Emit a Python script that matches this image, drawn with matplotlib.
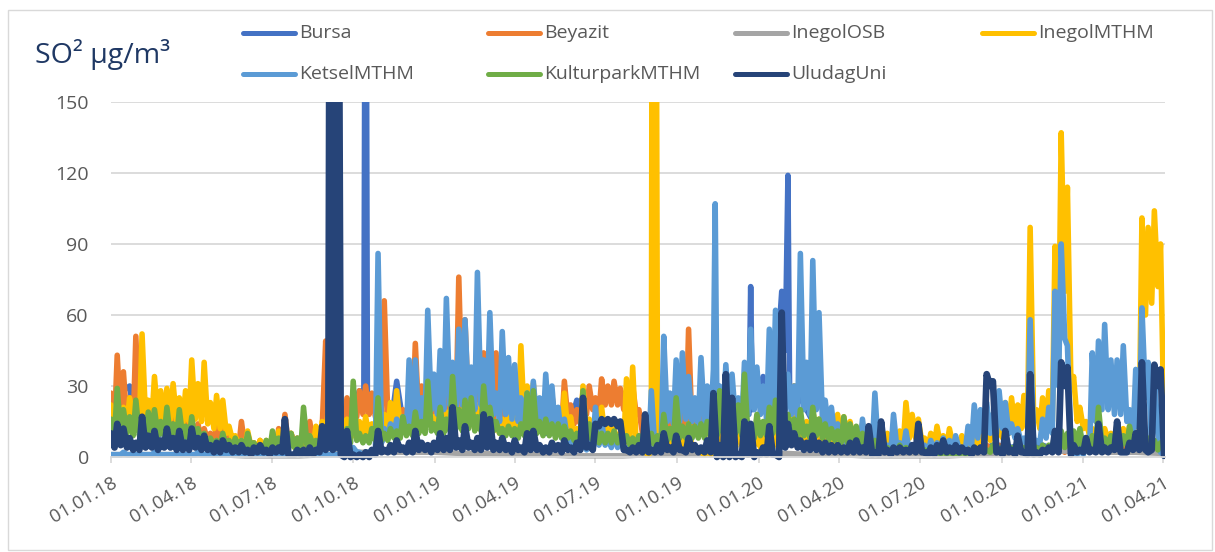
import pandas as pd
import matplotlib
matplotlib.use("Agg")
import matplotlib.pyplot as plt
from matplotlib.lines import Line2D
from matplotlib.patches import Rectangle

plt.rcParams['font.family'] = ['Open Sans', 'DejaVu Sans']

# ---------------------------------------------------------------- data
# SO2 in ug/m3. Weekly readings start 01.01.2018 (170 weeks); a second
# reading per week is taken four days later ("mid" lists).
week_dates = pd.date_range("2018-01-01", periods=170, freq="7D")
mid_dates = week_dates + pd.Timedelta(days=4)
# InegolOSB is stored as monthly values
month_dates = pd.date_range("2018-01-01", periods=40, freq="MS")

bursa = [
    8, 10, 28, 30, 12, 10, 9, 8, 10, 9,
    8, 9, 7, 8, 7, 6, 6, 5, 6, 8,
    8, 5, 6, 5, 5, 5, 4, 4, 5, 5,
    4, 5, 5, 4, 5, 4, 3, 4, 5, 20,
    28, 320, 25, 27, 14, 12, 32, 15, 12, 14,
    15, 14, 16, 15, 18, 15, 16, 17, 15, 14,
    15, 14, 13, 15, 14, 12, 13, 12, 11, 12,
    10, 11, 10, 12, 14, 24, 12, 10, 9, 8,
    8, 9, 8, 7, 8, 7, 6, 8, 9, 10,
    12, 14, 12, 15, 14, 16, 15, 18, 20, 22,
    25, 20, 20, 72, 25, 34, 20, 30, 70, 119,
    30, 25, 20, 15, 12, 10, 9, 8, 7, 6,
    5, 6, 5, 4, 5, 4, 4, 5, 4, 4,
    4, 3, 4, 4, 3, 4, 4, 3, 4, 4,
    5, 4, 5, 4, 5, 4, 5, 4, 5, 4,
    5, 4, 5, 6, 5, 4, 5, 4, 5, 4,
    5, 4, 5, 4, 5, 4, 5, 4, 5, 4,
]
beyazit = [
    27, 43, 36, 25, 51, 20, 18, 22, 17, 20,
    18, 15, 17, 12, 14, 12, 10, 14, 19, 10,
    8, 15, 9, 6, 7, 5, 9, 12, 18, 10,
    8, 12, 15, 8, 12, 22, 22, 21, 25, 27,
    28, 30, 27, 20, 66, 22, 24, 20, 22, 48,
    30, 25, 32, 28, 35, 30, 76, 58, 35, 30,
    44, 40, 44, 30, 22, 25, 20, 18, 20, 22,
    28, 26, 18, 32, 22, 20, 28, 30, 25, 33,
    30, 32, 29, 28, 30, 20, 8, 10, 12, 15,
    18, 20, 22, 54, 20, 18, 15, 14, 16, 15,
    14, 16, 15, 12, 10, 12, 10, 9, 10, 8,
    8, 7, 8, 6, 7, 6, 5, 6, 5, 5,
    4, 5, 4, 3, 4, 5, 4, 3, 4, 3,
    3, 4, 3, 3, 4, 3, 4, 3, 5, 6,
    11, 5, 4, 5, 4, 3, 4, 3, 4, 3,
    4, 3, 4, 3, 4, 5, 3, 4, 3, 4,
    3, 4, 3, 4, 3, 4, 3, 4, 3, 3,
]
beyazit_mid = [
    14, 15, 14, 13, 12, 12, 11, 11, 10, 10,
    9, 9, 8, 8, 7, 7, 6, 6, 6, 5,
    4, 4, 4, 3, 3, 3, 4, 5, 5, 5,
    5, 5, 6, 6, 8, 10, 14, 15, 16, 17,
    18, 18, 17, 16, 17, 16, 16, 15, 15, 16,
    16, 17, 18, 18, 18, 19, 20, 20, 18, 18,
    17, 16, 16, 15, 13, 13, 12, 12, 12, 13,
    14, 15, 12, 16, 14, 14, 18, 20, 18, 22,
    22, 22, 20, 18, 18, 10, 5, 5, 6, 7,
    8, 9, 10, 10, 9, 9, 8, 8, 8, 8,
    8, 7, 7, 6, 6, 6, 5, 5, 5, 5,
    4, 4, 4, 4, 4, 3, 3, 3, 3, 3,
    2, 2, 2, 2, 2, 2, 2, 2, 2, 2,
    2, 2, 2, 2, 2, 2, 2, 2, 3, 3,
    4, 3, 2, 2, 2, 2, 2, 2, 2, 2,
    2, 2, 2, 2, 2, 2, 2, 2, 2, 2,
    2, 2, 2, 2, 2, 2, 2, 2, 2, 2,
]
inegol_osb = [
    1, 1, 1, 1, 1, 0.5, 0.5, 0.5, 1, 2, 2, 2,
    2, 1.5, 1.5, 1, 1, 0.5, 0.5, 0.5, 1, 1, 1.5, 1.5,
    1.5, 1.5, 1, 1, 0.5, 0.5, 0.5, 0.5, 1, 1.5, 2, 2.5,
    2.5, 2, 2, 1.5,
]
inegol_mthm = [
    22, 18, 21, 25, 21, 52, 24, 34, 28, 29,
    31, 25, 28, 41, 31, 40, 23, 26, 24, 13,
    9, 7, 11, 6, 7, 7, 6, 11, 9, 10,
    7, 12, 9, 13, 15, 21, 12, 18, 16, 12,
    15, 17, 14, 21, 18, 23, 28, 16, 20, 25,
    18, 21, 17, 22, 19, 24, 20, 25, 18, 22,
    20, 17, 15, 16, 20, 18, 47, 30, 31, 22,
    21, 18, 16, 27, 17, 12, 30, 16, 14, 21,
    15, 12, 10, 33, 38, 8, 2, 4, 10, 8,
    6, 12, 8, 14, 5, 2, 3, 8, 10, 12,
    10, 14, 10, 12, 8, 10, 9, 12, 10, 14,
    30, 12, 15, 20, 16, 14, 12, 18, 17, 15,
    12, 14, 10, 8, 12, 10, 9, 11, 23, 18,
    16, 8, 10, 13, 9, 12, 8, 9, 8, 12,
    15, 13, 18, 16, 23, 25, 22, 26, 97, 20,
    25, 28, 89, 137, 114, 34, 21, 15, 12, 10,
    12, 10, 14, 12, 13, 30, 101, 97, 104, 90,
]
inegol_mthm_mid = [
    14, 13, 14, 15, 14, 16, 15, 16, 15, 16,
    15, 14, 15, 16, 15, 14, 12, 12, 10, 7,
    5, 4, 4, 3, 3, 3, 3, 4, 4, 4,
    4, 5, 5, 6, 7, 8, 8, 9, 8, 8,
    9, 9, 10, 11, 11, 12, 12, 11, 12, 13,
    12, 13, 12, 13, 13, 14, 13, 14, 12, 13,
    12, 11, 10, 10, 11, 12, 14, 15, 14, 12,
    11, 10, 9, 10, 8, 7, 8, 7, 7, 8,
    7, 6, 5, 9, 5, 2, 1, 2, 3, 3,
    3, 4, 3, 3, 2, 1, 1, 2, 3, 4,
    4, 5, 4, 5, 4, 5, 4, 5, 5, 6,
    8, 6, 7, 8, 7, 6, 6, 7, 7, 6,
    6, 6, 5, 4, 5, 4, 4, 5, 8, 8,
    6, 4, 5, 5, 4, 5, 4, 4, 4, 5,
    6, 7, 8, 8, 10, 12, 12, 12, 15, 12,
    13, 15, 40, 70, 30, 15, 12, 9, 7, 6,
    7, 6, 7, 6, 8, 12, 60, 65, 72, 10,
]
ketsel_mthm = [
    1, 1, 2, 1, 1, 1, 1, 2, 1, 1,
    1, 1, 1, 1, 2, 1, 1, 1, 1, 1,
    1, 1, 1, 1, 1, 1, 1, 1, 1, 1,
    1, 1, 1, 1, 1, 1, 1, 2, 3, 4,
    2, 2, 3, 86, 12, 14, 16, 17, 41, 41,
    25, 62, 35, 45, 67, 40, 54, 58, 38, 78,
    41, 61, 27, 53, 42, 39, 25, 27, 32, 25,
    35, 30, 21, 16, 10, 4, 6, 10, 21, 15,
    8, 10, 9, 4, 6, 5, 8, 28, 5, 51,
    27, 41, 44, 34, 25, 42, 30, 37, 30, 39,
    35, 25, 40, 54, 38, 30, 54, 62, 45, 35,
    30, 86, 40, 83, 61, 24, 21, 14, 10, 8,
    6, 16, 5, 27, 6, 5, 18, 6, 11, 5,
    6, 5, 7, 6, 8, 7, 9, 4, 13, 22,
    20, 23, 18, 28, 23, 14, 12, 8, 58, 7,
    16, 21, 70, 90, 47, 2, 3, 8, 44, 49,
    56, 41, 41, 47, 20, 37, 63, 40, 35, 2,
]
ketsel_mthm_mid = [
    1, 1, 1, 1, 1, 1, 1, 1, 1, 1,
    1, 1, 1, 1, 1, 1, 1, 1, 1, 1,
    1, 1, 1, 1, 1, 1, 1, 1, 1, 1,
    1, 1, 1, 1, 1, 1, 1, 1, 2, 2,
    1, 2, 2, 6, 8, 9, 10, 10, 12, 14,
    15, 20, 18, 20, 22, 20, 22, 22, 20, 22,
    20, 18, 15, 18, 16, 15, 14, 13, 14, 12,
    12, 10, 8, 6, 4, 3, 3, 4, 5, 5,
    4, 4, 3, 3, 3, 3, 3, 4, 3, 15,
    14, 15, 16, 15, 14, 15, 14, 18, 15, 16,
    15, 14, 18, 20, 18, 16, 20, 22, 20, 18,
    16, 20, 18, 20, 14, 10, 8, 6, 5, 4,
    3, 3, 3, 3, 3, 2, 3, 3, 2, 2,
    2, 2, 2, 2, 3, 3, 3, 3, 5, 8,
    10, 10, 10, 12, 10, 8, 6, 5, 5, 6,
    8, 10, 30, 50, 5, 1, 1, 2, 15, 20,
    20, 18, 18, 15, 8, 12, 25, 3, 10, 1,
]
kulturpark_mthm = [
    16, 29, 20, 17, 24, 15, 19, 20, 15, 21,
    14, 20, 13, 17, 12, 10, 8, 7, 10, 7,
    8, 7, 10, 6, 5, 7, 11, 8, 6, 10,
    8, 21, 9, 7, 8, 7, 9, 10, 12, 32,
    10, 9, 12, 25, 10, 12, 11, 17, 13, 19,
    15, 32, 14, 21, 16, 34, 20, 24, 25, 17,
    30, 21, 15, 12, 13, 12, 14, 27, 28, 15,
    16, 14, 14, 13, 11, 10, 28, 14, 12, 10,
    10, 11, 9, 9, 8, 9, 7, 10, 9, 18,
    12, 25, 13, 14, 13, 14, 15, 17, 28, 20,
    25, 22, 35, 12, 18, 15, 21, 24, 14, 18,
    16, 20, 13, 21, 16, 14, 12, 11, 17, 14,
    13, 10, 7, 7, 5, 4, 4, 5, 4, 4,
    4, 3, 3, 3, 3, 3, 2, 3, 3, 4,
    4, 3, 5, 4, 3, 4, 3, 4, 5, 4,
    5, 5, 11, 11, 10, 11, 12, 8, 9, 21,
    8, 9, 8, 9, 13, 8, 7, 8, 7, 6,
]
kulturpark_mthm_mid = [
    9, 10, 10, 9, 9, 9, 10, 9, 9, 8,
    8, 8, 7, 6, 6, 5, 5, 4, 4, 4,
    4, 4, 4, 3, 3, 3, 4, 4, 3, 4,
    4, 5, 5, 5, 5, 5, 5, 6, 6, 7,
    6, 6, 7, 7, 7, 8, 8, 9, 9, 10,
    10, 11, 10, 10, 11, 12, 11, 12, 11, 11,
    12, 11, 10, 9, 9, 8, 9, 10, 10, 9,
    9, 8, 8, 8, 7, 7, 7, 7, 6, 6,
    6, 6, 6, 5, 5, 5, 5, 5, 6, 7,
    7, 8, 8, 8, 8, 8, 9, 9, 10, 10,
    10, 9, 9, 8, 9, 9, 10, 9, 8, 9,
    8, 9, 8, 9, 8, 7, 7, 6, 6, 6,
    5, 4, 3, 3, 2, 2, 2, 2, 2, 2,
    2, 2, 1, 1, 1, 1, 1, 1, 1, 2,
    2, 2, 2, 2, 2, 2, 2, 2, 2, 2,
    3, 3, 4, 4, 5, 5, 4, 4, 4, 5,
    5, 4, 4, 5, 5, 4, 4, 4, 3, 3,
]
uludag_uni = [
    10, 14, 12, 8, 6, 17, 9, 11, 7, 12,
    8, 11, 6, 12, 8, 9, 5, 6, 7, 5,
    4, 5, 3, 4, 5, 3, 4, 4, 16, 1,
    3, 3, 4, 3, 13, 12, 380, 1, 11, 1,
    1, 2, 3, 11, 3, 5, 7, 4, 6, 11,
    6, 5, 6, 10, 8, 21, 7, 13, 6, 8,
    18, 16, 6, 8, 5, 7, 4, 10, 11, 5,
    4, 6, 5, 7, 4, 6, 25, 5, 14, 16,
    16, 16, 15, 3, 4, 5, 18, 3, 5, 10,
    4, 9, 3, 8, 5, 4, 7, 27, 5, 35,
    25, 1, 15, 14, 2, 4, 13, 1, 61, 14,
    10, 7, 6, 9, 6, 6, 5, 5, 4, 6,
    7, 4, 13, 2, 15, 3, 4, 4, 3, 5,
    14, 2, 4, 5, 7, 4, 5, 4, 3, 4,
    4, 35, 32, 3, 11, 3, 9, 2, 35, 2,
    3, 4, 11, 40, 38, 5, 3, 8, 3, 14,
    4, 4, 15, 2, 6, 10, 40, 2, 39, 37,
]
uludag_uni_mid = [
    4, 5, 4, 3, 3, 4, 4, 3, 4, 4,
    3, 3, 3, 4, 3, 3, 2, 2, 3, 2,
    2, 2, 1, 2, 2, 1, 2, 2, 1, 1,
    1, 1, 1, 2, 3, 5, 2, 0, 0, 0,
    0, 0, 1, 2, 2, 2, 3, 2, 2, 3,
    3, 2, 3, 3, 3, 4, 3, 4, 3, 3,
    4, 3, 3, 3, 2, 3, 2, 3, 3, 2,
    2, 3, 2, 3, 2, 3, 4, 3, 13, 14,
    14, 13, 3, 2, 2, 2, 2, 2, 2, 3,
    2, 3, 2, 3, 2, 2, 2, 0, 0, 0,
    0, 0, 1, 0, 1, 1, 1, 0, 4, 5,
    4, 3, 3, 3, 2, 2, 2, 2, 2, 2,
    2, 2, 1, 1, 2, 1, 2, 2, 2, 2,
    2, 1, 1, 2, 2, 2, 2, 2, 1, 2,
    2, 30, 2, 1, 2, 1, 2, 1, 1, 1,
    2, 2, 2, 30, 1, 2, 2, 2, 2, 2,
    2, 3, 2, 2, 3, 3, 3, 3, 30, 0.5,
]

# single-day readings during short episodes
bursa_days = {"2018-10-13": 27, "2018-10-17": 25,
              "2019-12-21": 18, "2019-12-25": 20,
              "2020-01-31": 45, "2020-02-05": 22}
beyazit_days = {"2018-08-31": 49}
inegol_mthm_days = {"2019-09-03": 250, "2019-09-04": 8, "2019-09-05": 290,
                    "2019-09-06": 10, "2019-09-07": 300}
ketsel_days = {"2019-11-13": 107}
uludag_days = {"2018-09-05": 330, "2018-09-06": 4, "2018-09-07": 360,
               "2018-09-08": 3, "2018-09-09": 300, "2018-09-11": 5,
               "2018-09-12": 340, "2018-09-13": 4, "2018-09-14": 300}

stations = ["Bursa", "Beyazit", "InegolOSB", "InegolMTHM",
            "KetselMTHM", "KulturparkMTHM", "UludagUni"]
colors = ["#4472C4", "#ED7D31", "#A5A5A5", "#FFC000",
          "#5B9BD5", "#70AD47", "#264478"]
series_defs = [
    (week_dates, bursa, None, bursa_days),
    (week_dates, beyazit, beyazit_mid, beyazit_days),
    (month_dates, inegol_osb, None, {}),
    (week_dates, inegol_mthm, inegol_mthm_mid, inegol_mthm_days),
    (week_dates, ketsel_mthm, ketsel_mthm_mid, ketsel_days),
    (week_dates, kulturpark_mthm, kulturpark_mthm_mid, {}),
    (week_dates, uludag_uni, uludag_uni_mid, uludag_days),
]

tick_dates = pd.date_range("2018-01-01", "2021-04-01", freq="QS")
tick_labels = [d.strftime("%d.%m.%y") for d in tick_dates]
y_ticks = [0, 30, 60, 90, 120, 150]


def build_series(dates, values, mid, extra):
    parts = [pd.Series(values, index=dates, dtype=float)]
    if mid is not None:
        parts.append(pd.Series(mid, index=mid_dates, dtype=float))
    if extra:
        e = pd.Series(extra, dtype=float)
        e.index = pd.to_datetime(e.index)
        parts.append(e)
    s = pd.concat(parts)
    return s.groupby(level=0).last().sort_index()


# ---------------------------------------------------------------- figure
W, H = 1215, 552
fig = plt.figure(figsize=(W / 100, H / 100), dpi=100)
fig.patch.set_facecolor("white")
ax = fig.add_axes([111 / W, 1 - 457 / H, 1054 / W, 355 / H])

clip = Rectangle((0, -0.04), 1, 1.04, transform=ax.transAxes)
for name, col, (dates, vals, mid, extra) in zip(stations, colors, series_defs):
    s = build_series(dates, vals, mid, extra)
    lw = 4.8 if name == "UludagUni" else 4.0
    ln, = ax.plot(s.index, s.values, color=col, lw=lw,
                  solid_capstyle="round", solid_joinstyle="round")
    ln.set_clip_path(clip)

ax.set_ylim(0, 150)
ax.set_xlim(pd.Timestamp("2018-01-01"), pd.Timestamp("2021-04-03"))
ax.set_yticks(y_ticks)
ax.set_xticks(tick_dates)
ax.set_xticklabels(tick_labels, rotation=30, ha="right", va="top",
                   rotation_mode="anchor")
ax.grid(axis="y", color="#D9D9D9", lw=1.3)
ax.set_axisbelow(True)
for side in ("top", "right", "left"):
    ax.spines[side].set_visible(False)
ax.spines["bottom"].set_color("#D9D9D9")
ax.spines["bottom"].set_linewidth(1.3)
ax.tick_params(axis="y", length=0, pad=16, labelsize=14, labelcolor="#595959")
ax.tick_params(axis="x", length=4, width=1.3, color="#D9D9D9", pad=8,
               labelsize=13.5, labelcolor="#595959")

# axis title
fig.text(35 / W, 1 - 63 / H, "SO² µg/m³", fontsize=20.5, color="#1F3864",
         ha="left", va="baseline")

# legend, four columns
col_x = [243, 488, 735, 982]
row_y = [33, 74]
for i, (name, col) in enumerate(zip(stations, colors)):
    r, c = divmod(i, 4)
    x0, y0 = col_x[c], row_y[r]
    fig.add_artist(Line2D([x0 / W, (x0 + 52) / W], [1 - y0 / H, 1 - y0 / H],
                          transform=fig.transFigure, color=col, lw=3.6,
                          solid_capstyle="round"))
    fig.text((x0 + 56) / W, 1 - y0 / H, name, fontsize=14, color="#595959",
             ha="left", va="center")

# chart border
fig.add_artist(Rectangle((8 / W, 2 / H), 1204 / W, 540 / H,
                         transform=fig.transFigure, fill=False,
                         edgecolor="#D9D9D9", lw=1.0))

fig.savefig("out.png", dpi=100)
